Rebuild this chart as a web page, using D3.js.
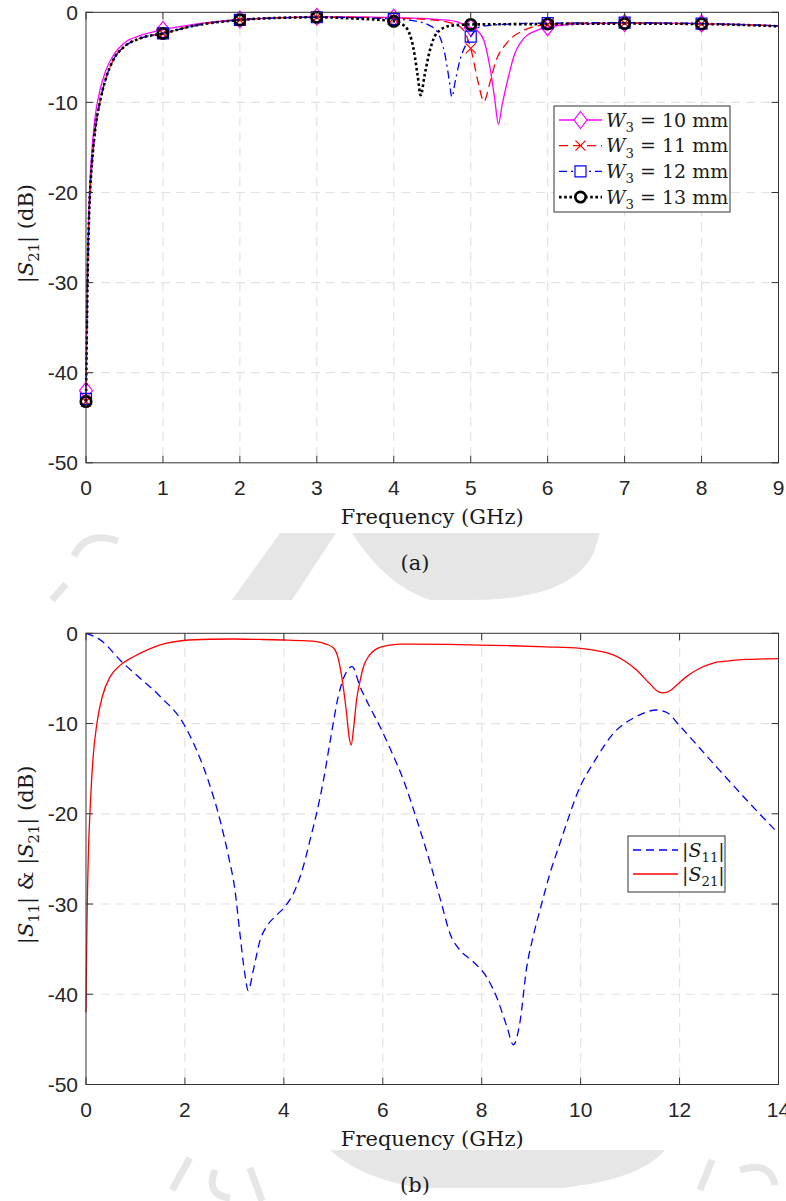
<!DOCTYPE html>
<html>
<head>
<meta charset="utf-8">
<script src="https://cdn.jsdelivr.net/npm/d3@7"></script>
<style>
  body { margin: 0; background: #fff; }
  .tick-label { font-family: "Liberation Sans", Arial, sans-serif; font-size: 21px; fill: #262626; }
  .math { font-family: "DejaVu Serif", serif; fill: #1a1a1a; }
</style>
</head>
<body>
<div id="chart"></div>
<script>
// ---- data ----
const xTicksA = [0, 1, 2, 3, 4, 5, 6, 7, 8, 9];
const xTicksB = [0, 2, 4, 6, 8, 10, 12, 14];
const yTicks = [-50, -40, -30, -20, -10, 0];

// (a) |S21| for W3 = 10..13 mm, [GHz, dB]
const w10 = [[0,-42],[0.01,-34],[0.02,-28],[0.035,-22.5],[0.05,-19],[0.08,-15],[0.12,-11.5],[0.18,-8.7],[0.26,-6.4],[0.36,-4.7],[0.5,-3.4],[0.7,-2.6],[1,-1.95],[1.4,-1.35],[2,-0.8],[2.5,-0.6],[3,-0.5],[3.5,-0.5],[4,-0.6],[4.5,-0.75],[4.8,-1.0],[5,-1.7],[5.08,-2.0],[5.17,-3.1],[5.25,-6.1],[5.31,-9.5],[5.36,-12.4],[5.41,-10.2],[5.47,-7.9],[5.56,-4.9],[5.69,-2.9],[5.86,-2.0],[6,-1.65],[6.3,-1.35],[6.6,-1.25],[7,-1.2],[7.5,-1.2],[8,-1.25],[8.5,-1.35],[9,-1.5]];
const w11 = [[0,-43.2],[0.01,-36],[0.02,-30],[0.035,-24],[0.05,-20.5],[0.08,-16.5],[0.12,-13],[0.18,-10],[0.26,-7.3],[0.36,-5.2],[0.5,-3.8],[0.7,-2.9],[1,-2.35],[1.4,-1.5],[2,-0.85],[2.5,-0.62],[3,-0.55],[3.5,-0.55],[4,-0.65],[4.5,-0.85],[4.7,-1.1],[4.86,-1.6],[4.93,-2.3],[5,-4.0],[5.1,-7.9],[5.17,-9.9],[5.25,-7.8],[5.32,-5.6],[5.47,-3.4],[5.69,-2.0],[6,-1.35],[6.5,-1.2],[7,-1.2],[8,-1.3],[9,-1.5]];
const w12 = [[0,-42.9],[0.01,-36],[0.02,-30],[0.035,-24],[0.05,-20.5],[0.08,-16.5],[0.12,-13],[0.18,-10],[0.26,-7.3],[0.36,-5.2],[0.5,-3.8],[0.7,-2.9],[1,-2.35],[1.4,-1.5],[2,-0.85],[2.5,-0.62],[3,-0.55],[3.5,-0.6],[4,-0.75],[4.3,-1.0],[4.45,-1.4],[4.56,-2.1],[4.67,-4.9],[4.72,-7.5],[4.755,-9.4],[4.8,-7.6],[4.86,-5.3],[4.95,-3.4],[5,-2.7],[5.12,-1.6],[5.5,-1.3],[6,-1.2],[7,-1.15],[8,-1.25],[9,-1.5]];
const w13 = [[0,-43.2],[0.01,-36],[0.02,-30],[0.035,-24],[0.05,-20.5],[0.08,-16.5],[0.12,-13],[0.18,-10],[0.26,-7.3],[0.36,-5.2],[0.5,-3.8],[0.7,-2.9],[1,-2.35],[1.4,-1.5],[2,-0.85],[2.5,-0.62],[3,-0.55],[3.5,-0.7],[4,-1.0],[4.15,-1.6],[4.26,-4.2],[4.31,-7],[4.35,-9.2],[4.4,-7],[4.47,-4.2],[4.56,-2.3],[4.73,-1.5],[5,-1.35],[6,-1.3],[7,-1.25],[8,-1.3],[9,-1.55]];

// (b) |S11| and |S21|, [GHz, dB]
const s11 = [[0,0],[0.28,-0.7],[0.75,-3.3],[1.1,-5.0],[1.5,-7.0],[1.97,-10],[2.2,-12.5],[2.47,-16.3],[2.71,-20.7],[2.88,-24.7],[3.01,-28.4],[3.11,-33.2],[3.21,-37.7],[3.28,-39.6],[3.38,-37.4],[3.52,-34],[3.65,-32.5],[3.86,-31.2],[4.02,-30.3],[4.23,-28.4],[4.39,-25.9],[4.53,-22.9],[4.66,-20],[4.8,-16.3],[4.95,-11.5],[5.1,-7],[5.22,-4.8],[5.38,-3.7],[5.54,-5.9],[5.75,-8.3],[5.94,-10.3],[6.15,-12.8],[6.42,-16.3],[6.69,-20.7],[6.96,-25.5],[7.19,-30],[7.36,-33.3],[7.56,-35.1],[7.83,-36.4],[8.1,-38.1],[8.3,-40.3],[8.51,-43.6],[8.64,-45.6],[8.77,-43.2],[8.91,-37],[9.04,-33.6],[9.21,-30],[9.38,-26.6],[9.58,-23.3],[9.99,-17],[10.3,-14],[10.66,-11.1],[11.1,-9.3],[11.54,-8.5],[11.75,-8.8],[12.01,-10.3],[12.68,-14.4],[13.36,-18.5],[14,-22.2]];
const s21 = [[0,-42],[0.02,-32],[0.05,-24],[0.08,-19.9],[0.14,-14],[0.22,-10],[0.33,-7],[0.49,-4.8],[0.7,-3.5],[0.96,-2.6],[1.3,-1.7],[1.63,-1.1],[1.97,-0.8],[2.5,-0.66],[2.98,-0.63],[3.5,-0.68],[3.99,-0.74],[4.4,-0.82],[4.66,-0.93],[4.85,-1.2],[5,-1.6],[5.1,-2.8],[5.17,-4.8],[5.26,-8.5],[5.32,-11.5],[5.36,-12.4],[5.41,-10.5],[5.47,-7.4],[5.54,-5.3],[5.61,-3.7],[5.72,-2.5],[5.88,-1.7],[6.1,-1.35],[6.35,-1.2],[6.62,-1.19],[7.3,-1.22],[7.97,-1.3],[8.6,-1.38],[9.3,-1.5],[9.99,-1.66],[10.4,-2.0],[10.66,-2.4],[10.9,-3.1],[11.13,-4.07],[11.4,-5.6],[11.58,-6.5],[11.67,-6.6],[11.8,-6.4],[11.95,-5.7],[12.14,-4.8],[12.4,-3.9],[12.68,-3.3],[13,-3.05],[13.36,-2.9],[14,-2.8]];

const legendA = ["10", "11", "12", "13"];
const legendB = ["11", "21"];

// ---- helpers ----
const W = 786, H = 1201;
const svg = d3.select("#chart").append("svg")
  .attr("width", W).attr("height", H)
  .attr("viewBox", [0, 0, W, H]);
svg.append("rect").attr("width", W).attr("height", H).attr("fill", "#fff");

// faint watermark that shows between the two figures
const mark = svg.append("g").attr("fill", "#e6e6e6").attr("stroke", "none");
mark.append("path").attr("d", "M280,533 L336,533 L292,600 L232,600 Z");
mark.append("path").attr("d", "M352,533 L600,533 L594,552 Q572,600 470,600 L430,600 Q385,585 352,533 Z");
mark.append("path").attr("fill", "none").attr("stroke", "#e6e6e6").attr("stroke-width", 7)
  .attr("d", "M118,541 Q86,530 74,556 M66,584 L52,600");
mark.append("path").attr("d", "M330,1150 L665,1150 Q640,1180 560,1188 L420,1188 Q360,1178 330,1150 Z");
mark.append("path").attr("fill", "none").attr("stroke", "#e6e6e6").attr("stroke-width", 7)
  .attr("d", "M190,1158 L172,1190 M215,1170 Q205,1195 230,1198 M250,1168 L262,1201 M700,1190 L712,1160 M740,1170 Q770,1160 775,1185");

function mathText(g, parts, size) {
  const t = g.append("text").attr("class", "math").attr("font-size", size);
  let shift = 0;
  parts.forEach((p) => {
    const target = p.sub ? size * 0.28 : 0;
    const ts = t.append("tspan").text(p.t).attr("dy", target - shift);
    shift = target;
    if (p.i) ts.attr("font-style", "italic");
    if (p.sub) ts.attr("font-size", size * 0.7);
  });
  return t;
}

const markerPath = {
  diamond: "M0,-8.5L6.5,0L0,8.5L-6.5,0Z",
  cross: "M-5,-5L5,5M-5,5L5,-5",
  square: "M-5.5,-5.5H5.5V5.5H-5.5Z",
  circle: d3.arc()({ innerRadius: 0, outerRadius: 5.2, startAngle: 0, endAngle: 2 * Math.PI }),
};

class SParamPanel {
  constructor({ g, left, right, top, bottom, xMax, xTicks }) {
    this.g = g;
    this.x = d3.scaleLinear().domain([0, xMax]).range([left, right]);
    this.y = d3.scaleLinear().domain([-50, 0]).range([bottom, top]);
    this.xTicks = xTicks;
    this.line = d3.line()
      .x((d) => this.x(d[0]))
      .y((d) => this.y(d[1]))
      .curve(d3.curveMonotoneX);
    this.gGrid = g.append("g");
    this.gLines = g.append("g");
    this.gAxes = g.append("g");
    this.gLegend = g.append("g");
  }

  renderFrame() {
    const [x0, x1] = this.x.range();
    const [y0, y1] = this.y.range();
    this.gGrid.selectAll(".vgrid")
      .data(this.xTicks.slice(1, -1))
      .join("line")
      .attr("x1", (d) => this.x(d)).attr("x2", (d) => this.x(d))
      .attr("y1", y1).attr("y2", y0)
      .attr("stroke", "#e2e2e2").attr("stroke-width", 1.2).attr("stroke-dasharray", "9,6");
    this.gGrid.selectAll(".hgrid")
      .data(yTicks.slice(1, -1))
      .join("line")
      .attr("x1", x0).attr("x2", x1)
      .attr("y1", (d) => this.y(d)).attr("y2", (d) => this.y(d))
      .attr("stroke", "#e2e2e2").attr("stroke-width", 1.2).attr("stroke-dasharray", "9,6");

    const axisColor = "#333";
    this.gAxes.append("rect")
      .attr("x", x0).attr("y", y1).attr("width", x1 - x0).attr("height", y0 - y1)
      .attr("fill", "none").attr("stroke", axisColor).attr("stroke-width", 1);

    // inward ticks on all four sides
    const tl = 7;
    this.gAxes.selectAll(".xt")
      .data(this.xTicks)
      .join("path")
      .attr("d", (d) => `M${this.x(d)},${y0}v${-tl}M${this.x(d)},${y1}v${tl}`)
      .attr("stroke", axisColor);
    this.gAxes.selectAll(".yt")
      .data(yTicks)
      .join("path")
      .attr("d", (d) => `M${x0},${this.y(d)}h${tl}M${x1},${this.y(d)}h${-tl}`)
      .attr("stroke", axisColor);

    this.gAxes.selectAll(".xl")
      .data(this.xTicks)
      .join("text")
      .attr("class", "tick-label")
      .attr("x", (d) => this.x(d)).attr("y", y0 + 32)
      .attr("text-anchor", "middle")
      .text((d) => d);
    this.gAxes.selectAll(".yl")
      .data(yTicks)
      .join("text")
      .attr("class", "tick-label")
      .attr("x", x0 - 8).attr("y", (d) => this.y(d) + 7.5)
      .attr("text-anchor", "end")
      .text((d) => d);
  }

  renderLabels({ yParts, caption }) {
    const [x0, x1] = this.x.range();
    const [y0, y1] = this.y.range();
    mathText(this.gAxes, [{ t: "Frequency (GHz)" }], 21)
      .attr("x", (x0 + x1) / 2).attr("y", y0 + 61).attr("text-anchor", "middle");
    mathText(this.gAxes, [{ t: caption }], 21)
      .attr("x", 415).attr("y", y0 + 107).attr("text-anchor", "middle");
    mathText(this.gAxes, yParts, 21)
      .attr("text-anchor", "middle")
      .attr("transform", `translate(33,${(y0 + y1) / 2 - 4}) rotate(-90)`);
  }

  renderSeries(series) {
    series.forEach((s) => {
      this.gLines.append("path")
        .attr("d", this.line(s.values))
        .attr("fill", "none")
        .attr("stroke", s.color)
        .attr("stroke-width", s.width)
        .attr("stroke-dasharray", s.dash)
        .attr("stroke-linecap", s.cap || "butt");
      if (s.marker) {
        this.gLines.selectAll(null)
          .data(s.values.filter((d) => Number.isInteger(d[0]) && d[0] <= 8))
          .join("path")
          .attr("transform", (d) => `translate(${this.x(d[0])},${this.y(d[1])})`)
          .attr("d", markerPath[s.marker])
          .attr("fill", "none")
          .attr("stroke", s.color)
          .attr("stroke-width", s.markerWidth || 1.2);
      }
    });
  }

  renderLegend({ x, y, w, h, rowH, sampleW, series, labels }) {
    this.gLegend.append("rect")
      .attr("x", x).attr("y", y).attr("width", w).attr("height", h)
      .attr("fill", "#fff").attr("stroke", "#333").attr("stroke-width", 1);
    series.forEach((s, i) => {
      const cy = y + 14 + i * rowH;
      this.gLegend.append("line")
        .attr("x1", x + 5).attr("x2", x + 5 + sampleW)
        .attr("y1", cy).attr("y2", cy)
        .attr("stroke", s.color).attr("stroke-width", s.width)
        .attr("stroke-dasharray", s.dash)
        .attr("stroke-linecap", s.cap || "butt");
      if (s.marker) {
        this.gLegend.append("path")
          .attr("transform", `translate(${x + 5 + sampleW / 2},${cy})`)
          .attr("d", markerPath[s.marker])
          .attr("fill", "#fff")
          .attr("stroke", s.color)
          .attr("stroke-width", s.markerWidth || 1.2);
      }
      mathText(this.gLegend, labels[i], 19)
        .attr("x", x + sampleW + 9).attr("y", cy + 6.5);
    });
  }
}

// ---- (a) ----
const seriesA = [
  { values: w10, color: "#ff00ff", width: 1.3, dash: null, marker: "diamond" },
  { values: w11, color: "#ff0000", width: 1.3, dash: "9,5", marker: "cross" },
  { values: w12, color: "#0000ff", width: 1.3, dash: "8,4,2,4", marker: "square" },
  { values: w13, color: "#000000", width: 2.6, dash: "2.6,2.6", marker: "circle", markerWidth: 2.6 },
];
const panelA = new SParamPanel({
  g: svg.append("g"), left: 86, right: 778.5, top: 12.3, bottom: 462.8,
  xMax: 9, xTicks: xTicksA,
});
panelA.renderFrame();
panelA.renderSeries(seriesA);
panelA.renderLabels({
  yParts: [{ t: "|" }, { t: "S", i: true }, { t: "21", sub: true }, { t: "| (dB)" }],
  caption: "(a)",
});
panelA.renderLegend({
  x: 554, y: 106, w: 176, h: 106, rowH: 25.7, sampleW: 43, series: seriesA,
  labels: legendA.map((v) => [{ t: "W", i: true }, { t: "3", sub: true }, { t: ` = ${v} mm` }]),
});

// ---- (b) ----
const seriesB = [
  { values: s11, color: "#0000ff", width: 1.3, dash: "8,5" },
  { values: s21, color: "#ff0000", width: 1.3, dash: null },
];
const panelB = new SParamPanel({
  g: svg.append("g"), left: 86, right: 778.5, top: 633.3, bottom: 1084.5,
  xMax: 14, xTicks: xTicksB,
});
panelB.renderFrame();
panelB.renderSeries(seriesB);
panelB.renderLabels({
  yParts: [{ t: "|" }, { t: "S", i: true }, { t: "11", sub: true }, { t: "| & |" },
           { t: "S", i: true }, { t: "21", sub: true }, { t: "| (dB)" }],
  caption: "(b)",
});
panelB.renderLegend({
  x: 628, y: 836, w: 97, h: 56, rowH: 24, sampleW: 45, series: seriesB,
  labels: legendB.map((v) => [{ t: "|" }, { t: "S", i: true }, { t: v, sub: true }, { t: "|" }]),
});
</script>
</body>
</html>
